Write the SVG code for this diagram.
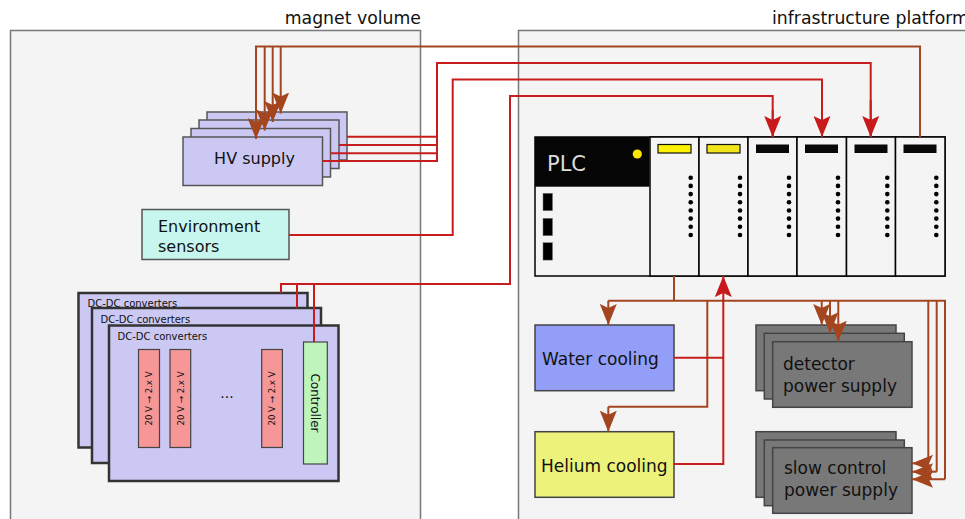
<svg xmlns="http://www.w3.org/2000/svg" xmlns:xlink="http://www.w3.org/1999/xlink" width="965" height="519" viewBox="0 0 965 519">
<style>
text{font-family:"DejaVu Sans","Liberation Sans",sans-serif;fill:#111}
.panel{fill:#f4f4f4;stroke:#777;stroke-width:1.5}
.title{font-size:17.3px}
.hv{fill:#ccc8f4;stroke:#555;stroke-width:1.5}
.dc{fill:#ccc8f4;stroke:#333;stroke-width:2.5}
.conv{fill:#f79696;stroke:#444;stroke-width:1.2}
.cv{font-size:8.6px}
.ctrl{fill:#bff5bb;stroke:#444;stroke-width:1.2}
.gray{fill:#787878;stroke:#444;stroke-width:1.5}
.lbl{font-size:17px}
.mod{fill:#f4f4f4;stroke:#000;stroke-width:1.5}
.red{fill:none;stroke:#c81d1d;stroke-width:2}
.brn{fill:none;stroke:#a3461f;stroke-width:2}
.ra{marker-end:url(#ar)}
.ba{marker-end:url(#ab)}
</style>
<defs>
<marker id="ar" viewBox="0 0 21 17" markerWidth="21" markerHeight="17" refX="21" refY="8.5" orient="auto" markerUnits="userSpaceOnUse"><path d="M0,0 L21,8.5 L0,17 L4,8.5 Z" fill="#c81a1a"/></marker>
<marker id="ab" viewBox="0 0 21 17" markerWidth="21" markerHeight="17" refX="21" refY="8.5" orient="auto" markerUnits="userSpaceOnUse"><path d="M0,0 L21,8.5 L0,17 L4,8.5 Z" fill="#a3461f"/></marker>
<g id="dotcol">
<circle cx="0" cy="177.7" r="2.3"/><circle cx="0" cy="185.9" r="2.3"/><circle cx="0" cy="194.1" r="2.3"/><circle cx="0" cy="202.3" r="2.3"/><circle cx="0" cy="210.5" r="2.3"/><circle cx="0" cy="218.6" r="2.3"/><circle cx="0" cy="226.8" r="2.3"/><circle cx="0" cy="235" r="2.3"/>
</g>
</defs>
<rect width="965" height="519" fill="#fff"/>
<g id="magnet-volume">
<rect class="panel" x="10.5" y="30.5" width="410" height="500"/>
<text class="title" x="421" y="24" text-anchor="end">magnet volume</text>
</g>
<g id="infrastructure-platform">
<rect class="panel" x="518.5" y="30.5" width="470" height="500"/>
<text class="title" x="772" y="24">infrastructure platform</text>
</g>
<g id="hv-supply">
<rect class="hv" x="207" y="112" width="140" height="48"/>
<rect class="hv" x="199" y="120" width="140" height="48.5"/>
<rect class="hv" x="191" y="128.5" width="139.5" height="48.5"/>
<rect class="hv" x="183" y="137" width="139.5" height="48.5"/>
<text x="254.5" y="164" font-size="16" text-anchor="middle">HV supply</text>
</g>
<g id="environment-sensors">
<rect x="142" y="209.5" width="147" height="50" fill="#c6f6ee" stroke="#555" stroke-width="1.5"/>
<text x="158" y="232" font-size="16">Environment</text>
<text x="158" y="252" font-size="16">sensors</text>
</g>
<g id="dc-dc-converters">
<rect class="dc" x="78.5" y="293" width="229" height="154.5"/>
<text x="87.5" y="306.5" font-size="10">DC-DC converters</text>
<rect class="dc" x="92" y="308" width="229" height="155"/>
<text x="100.5" y="322.5" font-size="10">DC-DC converters</text>
<rect class="dc" x="109" y="325.5" width="229.5" height="155.5"/>
<text x="117.5" y="340" font-size="10">DC-DC converters</text>
<rect class="conv" x="138.5" y="349.5" width="21" height="98"/>
<text class="cv" transform="translate(152,398.5) rotate(-90)" text-anchor="middle">20 V → 2.x V</text>
<rect class="conv" x="170" y="349.5" width="20.7" height="98"/>
<text class="cv" transform="translate(183.5,398.5) rotate(-90)" text-anchor="middle">20 V → 2.x V</text>
<rect class="conv" x="261.7" y="349.5" width="20.7" height="98"/>
<text class="cv" transform="translate(275.2,398.5) rotate(-90)" text-anchor="middle">20 V → 2.x V</text>
<text x="227" y="398" font-size="14" text-anchor="middle">...</text>
<g id="controller">
<rect class="ctrl" x="303.5" y="342" width="23.8" height="122"/>
<text transform="translate(311,403) rotate(90)" font-size="12" text-anchor="middle">Controller</text>
</g>
</g>
<g id="plc">
<rect class="mod" x="535" y="137" width="410" height="139"/>
<rect x="535" y="137" width="114.5" height="49.7" fill="#050505"/>
<text x="547" y="171" font-size="21" style="fill:#ddd">PLC</text>
<circle cx="637.3" cy="154" r="4.6" fill="#ffe600"/>
<rect x="543" y="193.3" width="9.5" height="17.4" fill="#000" stroke="#777" stroke-width="0.5"/>
<rect x="543" y="218.3" width="9.5" height="17.4" fill="#000" stroke="#777" stroke-width="0.5"/>
<rect x="543" y="242.7" width="9.5" height="17.4" fill="#000" stroke="#777" stroke-width="0.5"/>
<g id="plc-module-1"><rect class="mod" x="650" y="137" width="49" height="139"/><rect x="658" y="144.5" width="33" height="8.5" fill="#fff200" stroke="#111" stroke-width="1.2"/><use xlink:href="#dotcol" x="690.7"/></g>
<g id="plc-module-2"><rect class="mod" x="699" y="137" width="49" height="139"/><rect x="707" y="144.5" width="33" height="8.5" fill="#f2e51c" stroke="#111" stroke-width="1.2"/><use xlink:href="#dotcol" x="740"/></g>
<g id="plc-module-3"><rect class="mod" x="748" y="137" width="49" height="139"/><rect x="756" y="144.5" width="33" height="8.5" fill="#080808"/><use xlink:href="#dotcol" x="789"/></g>
<g id="plc-module-4"><rect class="mod" x="797" y="137" width="49.5" height="139"/><rect x="805" y="144.5" width="33" height="8.5" fill="#080808"/><use xlink:href="#dotcol" x="838"/></g>
<g id="plc-module-5"><rect class="mod" x="846.5" y="137" width="49" height="139"/><rect x="854.5" y="144.5" width="33" height="8.5" fill="#080808"/><use xlink:href="#dotcol" x="887.3"/></g>
<g id="plc-module-6"><rect class="mod" x="895.5" y="137" width="49.5" height="139"/><rect x="903.5" y="144.5" width="33" height="8.5" fill="#080808"/><use xlink:href="#dotcol" x="936.3"/></g>
</g>
<g id="water-cooling">
<rect x="535" y="325" width="139" height="65.7" fill="#929ef8" stroke="#444" stroke-width="1.5"/>
<text class="lbl" x="542" y="365">Water cooling</text>
</g>
<g id="helium-cooling">
<rect x="535" y="431.7" width="139" height="65.6" fill="#ecf27a" stroke="#444" stroke-width="1.5"/>
<text class="lbl" x="541" y="472">Helium cooling</text>
</g>
<g id="detector-power-supply">
<rect class="gray" x="756" y="325" width="140" height="65.7"/>
<rect class="gray" x="764.3" y="333.3" width="140" height="65.7"/>
<rect class="gray" x="772.7" y="341.7" width="139.3" height="65.6"/>
<text class="lbl" x="783" y="369.5">detector</text>
<text class="lbl" x="783" y="391.5">power supply</text>
</g>
<g id="slow-control-power-supply">
<rect class="gray" x="756" y="431.7" width="140" height="65.6"/>
<rect class="gray" x="764.3" y="440" width="140" height="65.7"/>
<rect class="gray" x="772.7" y="447.7" width="139.3" height="65.6"/>
<text class="lbl" x="784" y="473.5">slow control</text>
<text class="lbl" x="784" y="495.5">power supply</text>
</g>
<g id="connectors">
<path class="red" d="M347,136.7 H437 M339,145 H437 M330.5,153.3 H437 M322.5,161 H437 V63 H870.7 V137"/>
<path class="red ra" d="M870.7,100 V137"/>
<path class="red ra" d="M289,235 H452.7 V79.5 H822 V137"/>
<path class="red" d="M281,293 V284 H510 V96 H772.7 V137 M297,308 V284 M314,342 V284"/>
<path class="red ra" d="M772.7,110 V137"/>
<path class="brn" d="M920,137 V46.5 H256 V139"/>
<path class="brn ba" d="M256,100 V139"/>
<path class="brn ba" d="M264.7,46.5 V130.5"/>
<path class="brn ba" d="M272.7,46.5 V122"/>
<path class="brn ba" d="M280.7,46.5 V113.5"/>
<path class="brn" d="M674,276 V300.7 M608.3,300.7 H945 V479.3 M928.3,300.7 V463.3 M936.7,300.7 V471.7 M707.3,300.7 V406.7 H608.3"/>
<path class="brn ba" d="M608.3,300.7 V325"/>
<path class="brn ba" d="M608.3,406.7 V431.7"/>
<path class="brn ba" d="M821.7,300.7 V325"/>
<path class="brn ba" d="M830,300.7 V333.3"/>
<path class="brn ba" d="M838.3,300.7 V341.7"/>
<path class="brn ba" d="M928.3,463.3 H912"/>
<path class="brn ba" d="M936.7,471.7 H912"/>
<path class="brn ba" d="M945,479.3 H912"/>
<path class="red" d="M674,357.7 H723.3"/>
<path class="red ra" d="M674,464 H723.3 V276"/>
</g>
</svg>
